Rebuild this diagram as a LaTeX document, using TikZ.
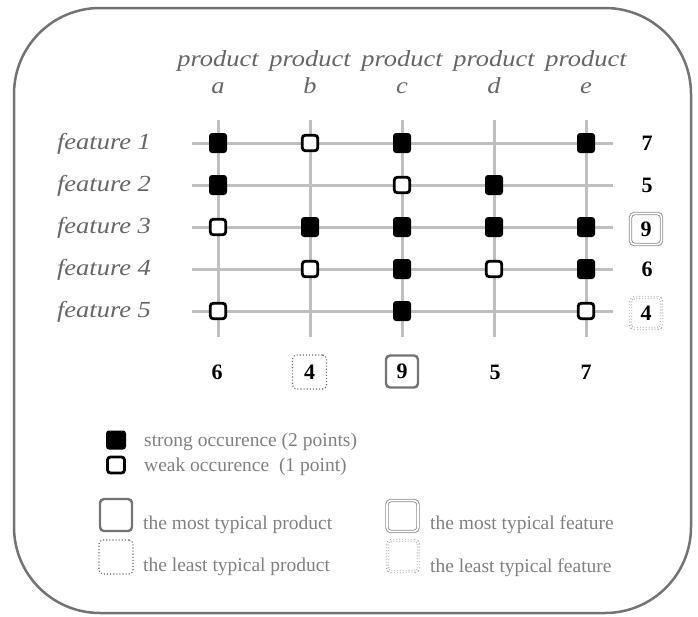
\documentclass[tikz,border=0pt]{standalone}
\usepackage{fontspec}
\setmainfont{Liberation Serif}
\newfontfamily\widefont[FakeStretch=1.15]{Liberation Serif}
\begin{document}
\begin{tikzpicture}[x=1pt,y=-1pt,
  frame/.style={draw=black!55, line width=2.5pt, rounded corners=86pt},
  gridline/.style={draw=black!25, line width=3pt},
  strongmk/.style={rectangle, fill=black, rounded corners=3pt, minimum width=18pt, minimum height=20pt, inner sep=0pt},
  weakmk/.style={rectangle, draw=black, fill=white, line width=2.8pt, rounded corners=3pt, minimum width=15.5pt, minimum height=15.5pt, inner sep=0pt},
  axislabel/.style={text=black!60, font=\widefont\itshape\fontsize{23}{23}\selectfont, inner sep=0pt, anchor=base},
  sumnum/.style={text=black, font=\bfseries\fontsize{22}{22}\selectfont, inner sep=0pt},
  topprod/.style={rectangle, draw=black!55, line width=2.4pt, rounded corners=4pt, minimum width=32pt, minimum height=32pt, inner sep=0pt},
  leastprod/.style={rectangle, draw=black!60, line width=1.1pt, dotted, rounded corners=4pt, minimum width=34pt, minimum height=34pt, inner sep=0pt},
  topfeat/.style={rectangle, draw=black!45, line width=0.9pt, double=white, double distance=1.6pt, rounded corners=4pt, minimum width=31pt, minimum height=31pt, inner sep=0pt},
  leastfeat/.style={rectangle, draw=black!35, line width=0.9pt, dotted, double=white, double distance=1.6pt, rounded corners=4pt, minimum width=31pt, minimum height=31pt, inner sep=0pt},
  legendtext/.style={text=black!50, font=\fontsize{19.5}{19.5}\selectfont, inner sep=0pt, anchor=west}
]
\useasboundingbox (0,0) rectangle (698,616);
% frame
\draw[frame] (14,8) rectangle (691,613);

% grid end points
\foreach \c/\x in {a/218,b/310,c/402,d/494,e/586}{
  \coordinate (top\c) at (\x,120);
  \coordinate (bot\c) at (\x,337);
}
\foreach \r/\y in {1/143,2/185,3/227,4/269,5/311}{
  \coordinate (left\r) at (192,\y);
  \coordinate (right\r) at (613,\y);
}
\foreach \c in {a,b,c,d,e}{ \draw[gridline] (top\c) -- (bot\c); }
\foreach \r in {1,2,3,4,5}{ \draw[gridline] (left\r) -- (right\r); }

% column labels
\foreach \c/\x in {a/218,b/310,c/402,d/494,e/586}{
  \node[axislabel] (prod\c) at (\x,66) {product};
  \node[axislabel] (let\c) at (\x,93) {\c};
}
% row labels
\foreach \r/\y in {1/143,2/185,3/227,4/269,5/311}{
  \node[axislabel] (feat\r) at (104,\y+6) {feature \r};
}

% markers
\node[strongmk] (m1a) at (218,143) {};
\node[weakmk]   (m1b) at (310,143) {};
\node[strongmk] (m1c) at (402,143) {};
\node[strongmk] (m1e) at (586,143) {};

\node[strongmk] (m2a) at (218,185) {};
\node[weakmk]   (m2c) at (402,185) {};
\node[strongmk] (m2d) at (494,185) {};

\node[weakmk]   (m3a) at (218,227) {};
\node[strongmk] (m3b) at (310,227) {};
\node[strongmk] (m3c) at (402,227) {};
\node[strongmk] (m3d) at (494,227) {};
\node[strongmk] (m3e) at (586,227) {};

\node[weakmk]   (m4b) at (310,269) {};
\node[strongmk] (m4c) at (402,269) {};
\node[weakmk]   (m4d) at (494,269) {};
\node[strongmk] (m4e) at (586,269) {};

\node[weakmk]   (m5a) at (218,311) {};
\node[strongmk] (m5c) at (402,311) {};
\node[weakmk]   (m5e) at (586,311) {};

% row sums
\node[sumnum] (rs1) at (647,143) {7};
\node[sumnum] (rs2) at (647,185) {5};
\node[topfeat] (rb3) at (646,229) {};
\node[sumnum] (rs3) at (646,229) {9};
\node[sumnum] (rs4) at (647,269) {6};
\node[leastfeat] (rb5) at (646,313) {};
\node[sumnum] (rs5) at (646,313) {4};

% column sums
\node[sumnum] (cs1) at (217,372) {6};
\node[leastprod] (cb2) at (309.5,372) {};
\node[sumnum] (cs2) at (309.5,372) {4};
\node[topprod] (cb3) at (402,371.5) {};
\node[sumnum] (cs3) at (402,371.5) {9};
\node[sumnum] (cs4) at (495,372) {5};
\node[sumnum] (cs5) at (586,372) {7};

% legend
\node[strongmk, minimum width=20pt, minimum height=19pt] (lgs) at (116,440) {};
\node[weakmk, minimum width=17pt, minimum height=16pt] (lgw) at (116,465) {};
\node[legendtext] (lts) at (144,442) {strong occurence (2 points)};
\node[legendtext] (ltw) at (144,467) {weak occurence\ \ (1 point)};

\node[topprod] (lbp1) at (116,515) {};
\node[legendtext] (ltp1) at (143,525) {the most typical product};
\node[leastprod] (lbp2) at (116,557) {};
\node[legendtext] (ltp2) at (143,567) {the least typical product};

\node[topfeat] (lbf1) at (402.5,516) {};
\node[legendtext] (ltf1) at (430,525) {the most typical feature};
\node[leastfeat] (lbf2) at (403,556) {};
\node[legendtext] (ltf2) at (430,568) {the least typical feature};
\end{tikzpicture}
\end{document}
